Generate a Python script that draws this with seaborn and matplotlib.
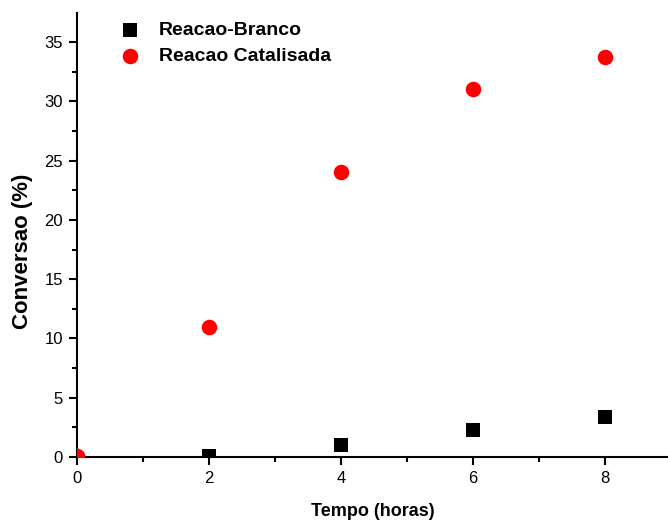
import matplotlib
matplotlib.use("Agg")
import matplotlib.pyplot as plt
import seaborn as sns
import pandas as pd
from matplotlib.ticker import MultipleLocator

sns.set_style("white")
plt.rcParams['font.family'] = ['Liberation Sans', 'DejaVu Sans']
plt.rcParams['text.color'] = 'black'
plt.rcParams['axes.labelcolor'] = 'black'
plt.rcParams['xtick.color'] = 'black'
plt.rcParams['ytick.color'] = 'black'

tempo_branco = [2, 4, 6, 8]
conv_branco = [0.05, 1.0, 2.3, 3.4]
tempo_cat = [0, 2, 4, 6, 8]
conv_cat = [0.05, 11.0, 24.0, 31.0, 33.7]
label_branco = "Reacao-Branco"
label_cat = "Reacao Catalisada"

df_b = pd.DataFrame({"t": tempo_branco, "c": conv_branco})
df_c = pd.DataFrame({"t": tempo_cat, "c": conv_cat})

fig = plt.figure(figsize=(6.68, 5.23), dpi=100)
ax = fig.add_axes([77/668, 66/523, 1 - 77/668, (457-13)/523])

sns.scatterplot(data=df_c, x="t", y="c", ax=ax, marker="o", color="#ff0000",
                s=125, edgecolor="#ff0000", linewidth=0, label=label_cat, zorder=3)
sns.scatterplot(data=df_b, x="t", y="c", ax=ax, marker="s", color="black",
                s=105, edgecolor="black", linewidth=0, label=label_branco, zorder=4)

ax.set_xlim(0, 8.95)
ax.set_ylim(0, 37.45)
ax.xaxis.set_major_locator(MultipleLocator(2))
ax.xaxis.set_minor_locator(MultipleLocator(1))
ax.yaxis.set_major_locator(MultipleLocator(5))
ax.yaxis.set_minor_locator(MultipleLocator(2.5))
ax.tick_params(which="major", direction="out", length=6, width=1.5, labelsize=12, pad=4,
               bottom=True, left=True, colors="black")
ax.tick_params(which="minor", direction="out", length=3.5, width=1.5, bottom=True, left=True,
               colors="black")
for s in ["top", "right"]:
    ax.spines[s].set_visible(False)
for s in ["left", "bottom"]:
    ax.spines[s].set_linewidth(1.5)
    ax.spines[s].set_color("black")

ax.set_xlabel("Tempo (horas)", fontsize=13, fontweight="bold", labelpad=12, color="black")
ax.set_ylabel("Conversao (%)", fontsize=16, fontweight="bold", color="black")
ax.yaxis.set_label_coords(-0.074, 0.464)

h, l = ax.get_legend_handles_labels()
order = [l.index(label_branco), l.index(label_cat)]
leg = ax.legend([h[i] for i in order], [l[i] for i in order], loc="upper left",
                bbox_to_anchor=(0.037, 1.012), frameon=False,
                prop={"weight": "bold", "size": 14}, handletextpad=0.6,
                labelspacing=0.42, borderpad=0.2, handlelength=1.8)
for t in leg.get_texts():
    t.set_color("black")

fig.savefig("out.png", dpi=100)
